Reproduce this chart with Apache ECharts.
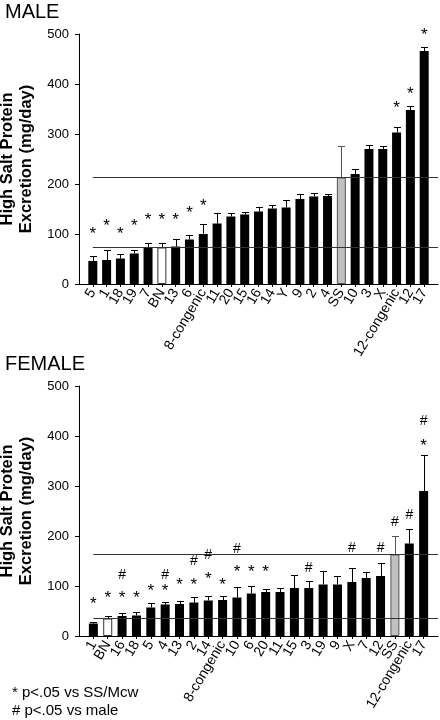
<!DOCTYPE html>
<html><head><meta charset="utf-8">
<script src="https://cdn.jsdelivr.net/npm/echarts@6/dist/echarts.min.js"></script>
<style>html,body{margin:0;padding:0;background:#fff}#c{width:440px;height:720px}</style>
</head><body><div id="c"></div>
<script>
// ---- data ----
const yTickMin = 0, yTickMax = 500, yTickStep = 100;

const maleCats = ['5','1','18','19','7','BN','13','6','8-congenic','11','20','15','16','14','Y','9','2','4','SS','10','3','X','12-congenic','12','17'];
const maleMean = [46,48,51,61,73,73,75,89,100,121,135,139,145,151,153,170,175,176,213,220,270,270,303,348,466];
const maleErrTop = [56,68,60,68,83,83,91,98,121,143,143,145,155,158,169,180,183,181,277,230,279,277,315,357,475];
const maleStar = [108,123,108,123,136,136,136,149,163,null,null,null,null,null,null,null,null,null,null,null,null,null,360,388,506];

const femaleCats = ['1','BN','16','18','5','4','13','2','14','8-congenic','10','6','20','11','15','3','19','9','X','7','12','SS','12-congenic','17'];
const femaleMean = [25,35,40,41,57,63,64,67,71,72,77,85,88,88,96,96,103,103,108,116,120,163,185,290];
const femaleErrTop = [29,41,47,48,67,69,71,79,81,81,99,101,95,96,123,110,131,120,136,129,147,200,215,363];
const femaleStar = [72,83,83,83,97,97,110,110,122,110,135,135,135,null,null,null,null,null,null,null,null,null,null,387];
const femaleHash = [null,null,122,null,null,122,null,149,162,null,174,null,null,null,null,135,null,null,175,null,175,227,242,429];

const FONT = '"Liberation Sans", Arial, sans-serif';

function padCats(c){ return [''].concat(c, [' ']); }

function barData(cats, vals){
  return [null].concat(vals.map((v,i)=>{
    const c = cats[i];
    if (c === 'BN') return {value:v, itemStyle:{color:'#ffffff', borderColor:'#333', borderWidth:1}};
    if (c === 'SS') return {value:v, itemStyle:{color:'#c0c0c0', borderColor:'#555', borderWidth:1}};
    return {value:v, itemStyle:{color:'#000'}};
  }), [null]);
}
function errData(cats, mean, err){
  return mean.map((m,i)=>[i+1, m, err[i], cats[i]==='SS'?1:0]);
}
function markData(arr){
  const out=[]; arr.forEach((v,i)=>{ if(v!==null) out.push([i+1, v]); }); return out;
}
function renderErr(params, api){
  const x = api.value(0), m = api.value(1), t = api.value(2);
  const p0 = api.coord([x, m]), p1 = api.coord([x, t]);
  const px = Math.round(p0[0]) + 0.5, py = Math.round(p1[1]) + 0.5;
  const col = api.value(3) ? '#555' : '#000';
  return {type:'group', children:[
    {type:'line', shape:{x1:px, y1:p0[1], x2:px, y2:py}, style:{stroke:col, lineWidth:1}},
    {type:'line', shape:{x1:px-3.5, y1:py, x2:px+3.5, y2:py}, style:{stroke:col, lineWidth:1}}
  ]};
}
function markRenderer(ch, size, dy){
  return function(params, api){
    const p = api.coord([api.value(0), api.value(1)]);
    return {type:'text', x:p[0], y:p[1] + dy,
      style:{text:ch, font:size+'px '+FONT, fill:'#000', align:'center', verticalAlign:'middle'}};
  };
}

function xAxisCfg(gi, cats){
  const data = padCats(cats), n = data.length;
  return {gridIndex:gi, type:'category', data:data, boundaryGap:false,
    axisLine:{lineStyle:{color:'#000', width:1}},
    axisTick:{show:true, length:3, interval:(i)=> i>0 && i<n-1, lineStyle:{color:'#000'}},
    axisLabel:{interval:0, rotate:59, fontSize:14, color:'#000', margin:6, fontFamily:FONT},
    splitLine:{show:false}};
}
function yAxisCfg(gi){
  return {gridIndex:gi, type:'value', min:yTickMin, max:yTickMax, interval:yTickStep,
    splitLine:{show:false},
    axisLine:{show:true, lineStyle:{color:'#000', width:1}},
    axisTick:{show:true, length:4, lineStyle:{color:'#000'}},
    axisLabel:{fontSize:13, color:'#000', margin:10, fontFamily:FONT},
    name:'High Salt Protein\nExcretion (mg/day)', nameLocation:'middle', nameGap:41,
    nameTextStyle:{fontWeight:'bold', fontSize:16.5, lineHeight:19, color:'#000', fontFamily:FONT}};
}
function refLines(cats, mean){
  const n = cats.length + 1;
  const ss = mean[cats.indexOf('SS')], bn = mean[cats.indexOf('BN')];
  return {silent:true, symbol:['none','none'], label:{show:false},
    lineStyle:{color:'#333', width:1, type:'solid'},
    data:[[{coord:[1, ss]},{coord:[n, ss]}],[{coord:[1, bn]},{coord:[n, bn]}]]};
}
function seriesFor(gi, cats, mean, err, star, hash){
  const s = [
    {type:'bar', xAxisIndex:gi, yAxisIndex:gi, data:barData(cats, mean), barWidth:9, z:2,
      markLine:refLines(cats, mean)},
    {type:'custom', xAxisIndex:gi, yAxisIndex:gi, data:errData(cats, mean, err), renderItem:renderErr, z:3,
      encode:{x:0, y:[1,2]}},
    {type:'custom', xAxisIndex:gi, yAxisIndex:gi, data:markData(star), renderItem:markRenderer('*', 17, 4), z:4,
      clip:false, encode:{x:0, y:1}}
  ];
  if (hash) s.push({type:'custom', xAxisIndex:gi, yAxisIndex:gi, data:markData(hash), renderItem:markRenderer('#', 14, 0), z:4,
      clip:false, encode:{x:0, y:1}});
  return s;
}

const chart = echarts.init(document.getElementById('c'), null, {renderer:'canvas'});
chart.setOption({
  animation:false,
  backgroundColor:'#fff',
  title:[
    {text:'MALE', left:0, top:-3, textStyle:{fontSize:20, fontWeight:'normal', color:'#000', fontFamily:FONT}},
    {text:'FEMALE', left:0, top:349, textStyle:{fontSize:20, fontWeight:'normal', color:'#000', fontFamily:FONT}}
  ],
  grid:[
    {left:79, top:34, width:359, height:250, containLabel:false, outerBoundsMode:'none'},
    {left:79, top:386, width:359, height:250, containLabel:false, outerBoundsMode:'none'}
  ],
  xAxis:[xAxisCfg(0, maleCats), xAxisCfg(1, femaleCats)],
  yAxis:[yAxisCfg(0), yAxisCfg(1)],
  series: seriesFor(0, maleCats, maleMean, maleErrTop, maleStar, null)
    .concat(seriesFor(1, femaleCats, femaleMean, femaleErrTop, femaleStar, femaleHash)),
  graphic:[
    {type:'text', left:12, top:685, style:{text:'* p<.05 vs SS/Mcw', font:'15px '+FONT, fill:'#000'}},
    {type:'text', left:12, top:703, style:{text:'# p<.05 vs male', font:'15px '+FONT, fill:'#000'}}
  ]
});
</script></body></html>
